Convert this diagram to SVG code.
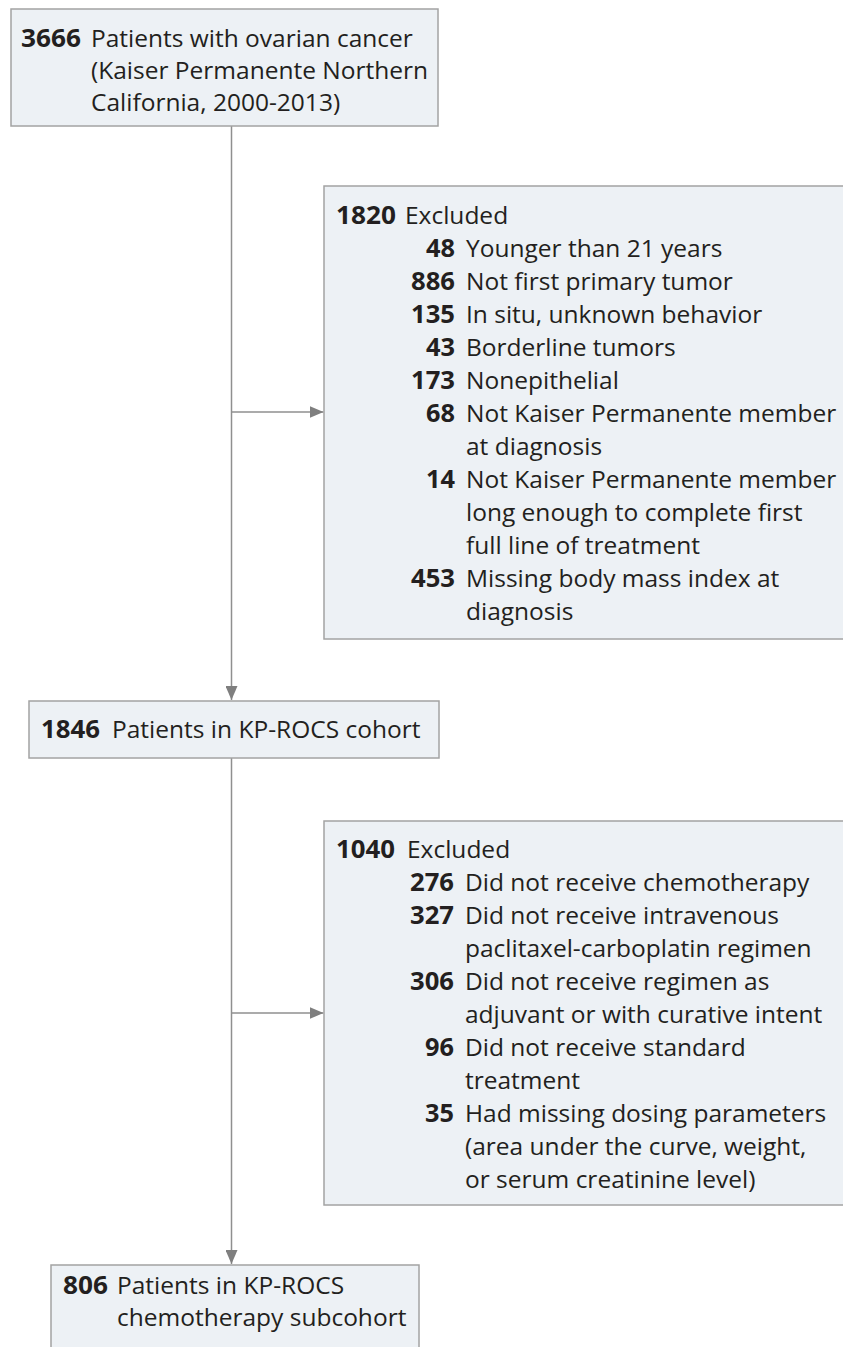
<svg xmlns="http://www.w3.org/2000/svg" width="843" height="1347" viewBox="0 0 843 1347">
<style>
.box{fill:#edf1f5;stroke:#a3a3a3;stroke-width:1.5}
.t{font-family:"Open Sans","Noto Sans","Liberation Sans",sans-serif;font-size:24.5px;fill:#231f20}
.n{font-weight:700}
.r{text-anchor:end}
.c{fill:none;stroke:#8f8f8f;stroke-width:1.5}
</style>
<defs>
<marker id="ah" markerUnits="userSpaceOnUse" markerWidth="14" markerHeight="12" refX="14" refY="6" orient="auto">
<path d="M0,0 L14,6 L0,12 z" fill="#7f7f7f"/>
</marker>
</defs>
<rect width="843" height="1347" fill="#ffffff"/>
<g id="connectors">
<path class="c" d="M231.5,126 V700" marker-end="url(#ah)"/>
<path class="c" d="M231.5,412 H323.5" marker-end="url(#ah)"/>
<path class="c" d="M231.5,758 V1264" marker-end="url(#ah)"/>
<path class="c" d="M231.5,1013 H323.5" marker-end="url(#ah)"/>
</g>
<g id="n1">
<rect class="box" x="11" y="9" width="427" height="117"/>
<text class="t n" x="21" y="47" textLength="60" lengthAdjust="spacingAndGlyphs">3666</text>
<text class="t" x="91" y="47">Patients with ovarian cancer</text>
<text class="t" x="91" y="79">(Kaiser Permanente Northern</text>
<text class="t" x="91" y="111">California, 2000-2013)</text>
</g>
<g id="n2">
<rect class="box" x="324" y="186" width="530" height="453"/>
<text class="t n" x="336" y="224" textLength="60" lengthAdjust="spacingAndGlyphs">1820</text>
<text class="t" x="405" y="224">Excluded</text>
<text class="t n r" x="455" y="257" textLength="29" lengthAdjust="spacingAndGlyphs">48</text>
<text class="t" x="466" y="257">Younger than 21 years</text>
<text class="t n r" x="455" y="290" textLength="44" lengthAdjust="spacingAndGlyphs">886</text>
<text class="t" x="466" y="290">Not first primary tumor</text>
<text class="t n r" x="455" y="323" textLength="44" lengthAdjust="spacingAndGlyphs">135</text>
<text class="t" x="466" y="323">In situ, unknown behavior</text>
<text class="t n r" x="455" y="356" textLength="29" lengthAdjust="spacingAndGlyphs">43</text>
<text class="t" x="466" y="356">Borderline tumors</text>
<text class="t n r" x="455" y="389" textLength="44" lengthAdjust="spacingAndGlyphs">173</text>
<text class="t" x="466" y="389">Nonepithelial</text>
<text class="t n r" x="455" y="422" textLength="29" lengthAdjust="spacingAndGlyphs">68</text>
<text class="t" x="466" y="422">Not Kaiser Permanente member</text>
<text class="t" x="466" y="455">at diagnosis</text>
<text class="t n r" x="455" y="488" textLength="29" lengthAdjust="spacingAndGlyphs">14</text>
<text class="t" x="466" y="488">Not Kaiser Permanente member</text>
<text class="t" x="466" y="521">long enough to complete first</text>
<text class="t" x="466" y="554">full line of treatment</text>
<text class="t n r" x="455" y="587" textLength="44" lengthAdjust="spacingAndGlyphs">453</text>
<text class="t" x="466" y="587">Missing body mass index at</text>
<text class="t" x="466" y="620">diagnosis</text>
</g>
<g id="n3">
<rect class="box" x="29" y="701" width="410" height="57"/>
<text class="t n" x="41" y="738" textLength="59" lengthAdjust="spacingAndGlyphs">1846</text>
<text class="t" x="112" y="738">Patients in KP-ROCS cohort</text>
</g>
<g id="n4">
<rect class="box" x="324" y="821" width="530" height="384"/>
<text class="t n" x="336" y="858" textLength="59" lengthAdjust="spacingAndGlyphs">1040</text>
<text class="t" x="407" y="858">Excluded</text>
<text class="t n r" x="454" y="891" textLength="44" lengthAdjust="spacingAndGlyphs">276</text>
<text class="t" x="465" y="891">Did not receive chemotherapy</text>
<text class="t n r" x="454" y="924" textLength="44" lengthAdjust="spacingAndGlyphs">327</text>
<text class="t" x="465" y="924">Did not receive intravenous</text>
<text class="t" x="465" y="957">paclitaxel-carboplatin regimen</text>
<text class="t n r" x="454" y="990" textLength="44" lengthAdjust="spacingAndGlyphs">306</text>
<text class="t" x="465" y="990">Did not receive regimen as</text>
<text class="t" x="465" y="1023">adjuvant or with curative intent</text>
<text class="t n r" x="454" y="1056" textLength="29" lengthAdjust="spacingAndGlyphs">96</text>
<text class="t" x="465" y="1056">Did not receive standard</text>
<text class="t" x="465" y="1089">treatment</text>
<text class="t n r" x="454" y="1122" textLength="29" lengthAdjust="spacingAndGlyphs">35</text>
<text class="t" x="465" y="1122">Had missing dosing parameters</text>
<text class="t" x="465" y="1155">(area under the curve, weight,</text>
<text class="t" x="465" y="1188">or serum creatinine level)</text>
</g>
<g id="n5">
<rect class="box" x="51" y="1265" width="368" height="100"/>
<text class="t n" x="63" y="1294" textLength="45" lengthAdjust="spacingAndGlyphs">806</text>
<text class="t" x="117" y="1294">Patients in KP-ROCS</text>
<text class="t" x="117" y="1326">chemotherapy subcohort</text>
</g>
</svg>
